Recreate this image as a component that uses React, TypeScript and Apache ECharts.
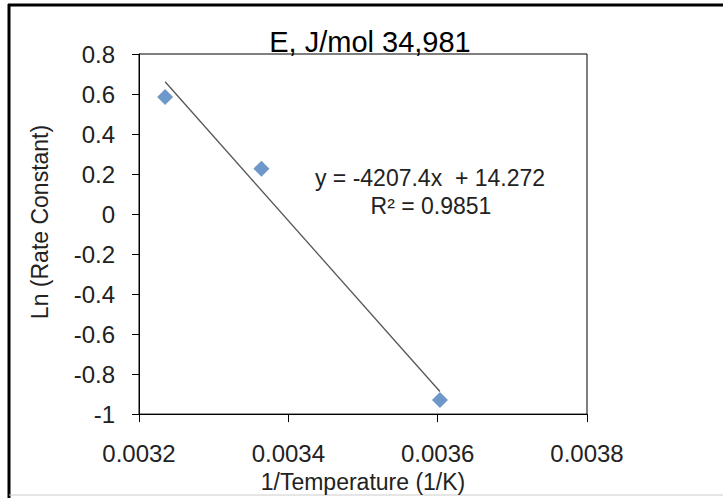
import React, { useEffect, useRef } from "react";
import * as echarts from "echarts";

const xValues = [0.003235, 0.003364, 0.003603];
const yValues = [0.585, 0.227, -0.93];
const trendSlope = -4207.4;
const trendIntercept = 14.272;
const titleText = "E, J/mol 34,981";
const equationLines = ["y = -4207.4x  + 14.272", "R² = 0.9851"];
const xAxisName = "1/Temperature (1/K)";
const yAxisName = "Ln (Rate Constant)";

const FONT = "'Liberation Sans', Arial, sans-serif";

export default function App() {
  const ref = useRef<HTMLDivElement>(null);
  useEffect(() => {
    if (!ref.current) return;
    const chart = echarts.init(ref.current, null, { renderer: "svg" });
    const points = xValues.map((x, i) => [x, yValues[i]]);
    const xStart = Math.min(...xValues);
    const xEnd = Math.max(...xValues);
    const trend = [
      [xStart, trendSlope * xStart + trendIntercept],
      [xEnd, trendSlope * xEnd + trendIntercept],
    ];
    chart.setOption({
      animation: false,
      backgroundColor: "#fff",
      grid: {
        left: 139,
        right: 136,
        top: 54,
        bottom: 82,
        show: true,
        borderColor: "#000",
        borderWidth: 1,
        backgroundColor: "transparent",
      },
      xAxis: {
        type: "value",
        min: 0.0032,
        max: 0.0038,
        interval: 0.0002,
        name: xAxisName,
        nameLocation: "middle",
        nameGap: 53,
        nameTextStyle: { fontFamily: FONT, fontSize: 23, color: "#222" },
        axisLine: { show: true, onZero: false, lineStyle: { color: "#000", width: 1 } },
        axisTick: { show: true, inside: false, length: 8, lineStyle: { color: "#000" } },
        splitLine: { show: false },
        axisLabel: {
          margin: 27,
          fontFamily: FONT,
          fontSize: 24,
          color: "#222",
          formatter: (v: number) => v.toFixed(4),
        },
      },
      yAxis: {
        type: "value",
        min: -1,
        max: 0.8,
        interval: 0.2,
        axisLine: { show: true, onZero: false, lineStyle: { color: "#000", width: 1 } },
        axisTick: { show: true, inside: false, length: 7, lineStyle: { color: "#000" } },
        splitLine: { show: false },
        axisLabel: {
          margin: 24,
          fontFamily: FONT,
          fontSize: 24,
          color: "#222",
          formatter: (v: number) => String(Number(v.toFixed(1))),
        },
      },
      series: [
        {
          type: "line",
          data: trend,
          showSymbol: false,
          symbol: "none",
          lineStyle: { color: "#555", width: 1.3 },
          z: 2,
          silent: true,
        },
        {
          type: "scatter",
          data: points,
          symbol: "diamond",
          symbolSize: [16, 16],
          itemStyle: { color: "#4A7EBB" },
          z: 3,
        },
      ],
      graphic: [
        {
          type: "line",
          shape: { x1: 8, y1: 5, x2: 723, y2: 5 },
          style: { stroke: "#000", lineWidth: 3 },
        },
        {
          type: "line",
          shape: { x1: 9, y1: 4, x2: 9, y2: 498 },
          style: { stroke: "#000", lineWidth: 3 },
        },
        {
          type: "line",
          shape: { x1: 9, y1: 495, x2: 723, y2: 495 },
          style: { stroke: "#ccc", lineWidth: 1 },
        },
        {
          type: "text",
          x: 370,
          y: 42,
          style: {
            text: titleText,
            fontFamily: FONT,
            fontSize: 29,
            fill: "#000",
            textAlign: "center",
            textVerticalAlign: "middle",
          },
          z: 10,
        },
        {
          type: "text",
          x: 430,
          y: 178,
          style: {
            text: equationLines[0],
            fontFamily: FONT,
            fontSize: 23,
            fill: "#222",
            textAlign: "center",
            textVerticalAlign: "middle",
          },
          z: 10,
        },
        {
          type: "text",
          x: 431,
          y: 206,
          style: {
            text: equationLines[1],
            fontFamily: FONT,
            fontSize: 23,
            fill: "#222",
            textAlign: "center",
            textVerticalAlign: "middle",
          },
          z: 10,
        },
        {
          type: "text",
          x: 40,
          y: 222,
          rotation: Math.PI / 2,
          style: {
            text: yAxisName,
            fontFamily: FONT,
            fontSize: 23,
            fill: "#222",
            textAlign: "center",
            textVerticalAlign: "middle",
          },
          z: 10,
        },
      ],
    });
    return () => chart.dispose();
  }, []);
  return (
    <div
      ref={ref}
      style={{ position: "fixed", left: 0, top: 0, width: 723, height: 498 }}
    />
  );
}
